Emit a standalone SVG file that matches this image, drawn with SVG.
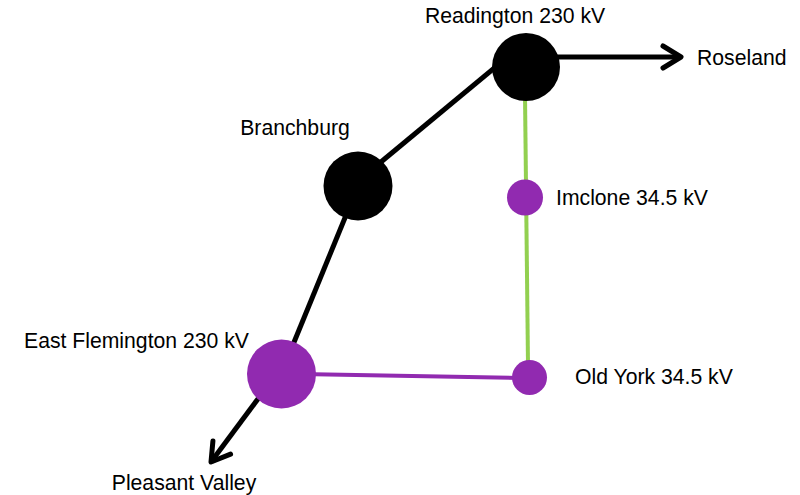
<svg xmlns="http://www.w3.org/2000/svg" width="800" height="495" viewBox="0 0 800 495">
<style>
text{font-family:"Liberation Sans",Arial,sans-serif;font-size:21.2px;fill:#000}
.blk{stroke:#000;stroke-width:5;fill:none}
.grn{stroke:#92D050;stroke-width:4;fill:none}
.pur{stroke:#912AB0;stroke-width:4;fill:none}
.big{fill:#000}
.bigp{fill:#912AB0}
.sm{fill:#912AB0}
</style>
<defs>
<marker id="arr" markerUnits="userSpaceOnUse" viewBox="-24 -16 30 32" refX="0" refY="0" markerWidth="30" markerHeight="32" orient="auto">
<path d="M-18,-11 L0,0 L-18,11" fill="none" stroke="#000" stroke-width="5" stroke-linecap="round" stroke-linejoin="round"/>
</marker>
</defs>
<rect width="800" height="495" fill="#fff"/>
<g id="connectors">
<line class="blk" x1="358" y1="181" x2="522" y2="45"/>
<line class="blk" x1="358" y1="186" x2="281" y2="374"/>
<line class="blk" x1="540" y1="57" x2="681" y2="57" marker-end="url(#arr)"/>
<line class="blk" x1="275" y1="376" x2="211" y2="462" marker-end="url(#arr)"/>
<line class="grn" x1="525" y1="95" x2="528" y2="365"/>
<line class="pur" x1="300" y1="374" x2="520" y2="378"/>
</g>
<g id="readington">
<circle class="big" cx="526" cy="67" r="34"/>
<text x="515" y="23" text-anchor="middle">Readington 230 kV</text>
</g>
<g id="roseland">
<text x="697" y="65">Roseland</text>
</g>
<g id="branchburg">
<circle class="big" cx="358" cy="186" r="34.5"/>
<text x="295" y="135" text-anchor="middle">Branchburg</text>
</g>
<g id="imclone">
<circle class="sm" cx="525" cy="197.5" r="18"/>
<text x="556" y="205">Imclone 34.5 kV</text>
</g>
<g id="east-flemington">
<circle class="bigp" cx="281.5" cy="374" r="34.5"/>
<text x="24" y="348">East Flemington 230 kV</text>
</g>
<g id="old-york">
<circle class="sm" cx="529.5" cy="377.5" r="17.5"/>
<text x="575" y="384">Old York 34.5 kV</text>
</g>
<g id="pleasant-valley">
<text x="184" y="490" text-anchor="middle">Pleasant Valley</text>
</g>
</svg>
